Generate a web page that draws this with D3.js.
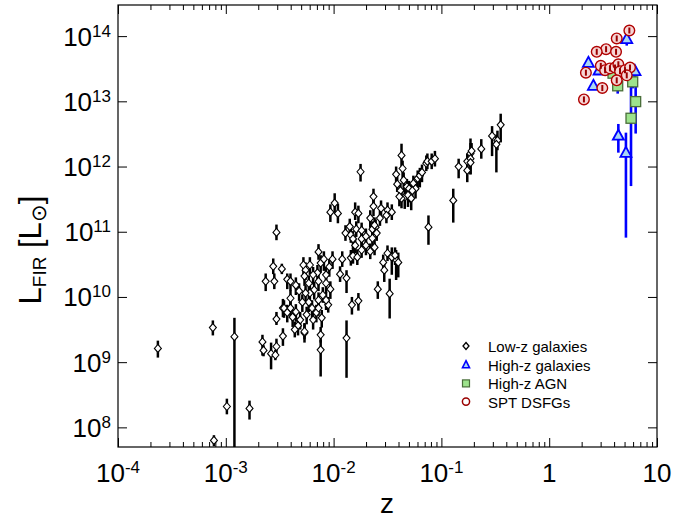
<!DOCTYPE html>
<html><head><meta charset="utf-8">
<script src="https://cdn.jsdelivr.net/npm/d3@7"></script>
<style>body{margin:0;background:#fff}svg{display:block}</style>
</head><body><svg id="c" width="673" height="520"></svg>
<script>
// ---- Low-z galaxies (log10 z, log10 L_FIR, error bar lengths in dex) ----
const lowZ_log10z = [-3.63,-3.12,-2.92,-2.99,-2.78,-3.11,-2.66,-2.65,-2.58,-2.53,-2.54,-2.47,-2.53,-2.47,-2.40,-2.27,-2.12,-2.12,-1.88,
 -2.53,-2.56,-2.48,-2.63,-2.55,-2.43,-2.40,-2.32,-2.28,-2.26,-2.27,-2.14,-2.12,-2.09,-2.04,-2.01,-2.15,-2.14,-2.18,-2.22,-2.03,-2.10,-2.05,-2.26,
 -2.40,-2.46,-2.43,-2.38,-2.35,-2.31,-2.33,-2.27,-2.25,-2.19,-2.16,-2.11,-2.20,-2.14,-1.94,-1.92,-1.88,-1.84,-1.83,-1.77,-1.59,-1.48,-1.54,-1.53,
 -1.42,-1.40,-1.46,-1.99,-2.03,-1.96,-1.80,-1.63,-1.63,-1.66,-1.56,-1.50,-1.46,-1.57,-1.61,-1.89,-1.84,-1.79,-1.82,-1.80,-1.74,-1.74,-1.64,-1.62,
 -1.60,-1.64,-1.74,-1.66,-1.62,-1.82,-1.78,-1.50,-1.43,-1.75,-1.37,-1.42,-1.41,-1.38,-1.34,-1.37,-1.32,-1.29,-1.26,-1.24,-1.30,-1.22,-1.20,-1.18,
 -1.14,-1.13,-1.09,-1.06,-1.12,-0.89,-0.84,-0.76,-0.73,-0.72,-0.73,-0.63,-0.53,-0.48,-0.49,-0.45,-2.23,-2.07,
 -1.35,-1.31,-1.28,-1.27,-1.39,-1.36,-2.22,-2.19,-2.07,-2.35,-2.23,-2.07,-2.29,-2.14,-2.36,-1.70,-1.70,-1.51,-1.85,-1.77,-0.76,-0.73];
const lowZ_log10L = [9.21,9.53,9.39,8.32,8.29,7.80,9.31,9.18,9.13,9.24,9.11,9.40,9.66,9.83,9.98,9.45,9.19,9.42,9.37,
 10.99,10.47,10.43,10.24,10.24,10.27,10.24,10.09,10.49,10.41,10.32,10.69,10.52,10.58,10.46,10.58,10.37,10.24,10.11,10.06,10.12,10.03,9.88,10.06,
 9.83,9.83,9.76,9.69,9.77,9.65,9.56,9.47,9.73,9.65,9.76,9.68,9.83,9.83,10.35,10.58,10.29,10.60,9.88,9.94,10.12,10.05,10.53,10.41,
 10.57,10.53,10.61,11.44,11.30,11.28,11.30,11.54,11.39,11.21,11.36,11.33,11.30,11.21,11.07,10.98,10.95,11.04,10.89,10.79,11.02,10.89,11.04,11.10,
 10.98,10.90,10.72,10.70,10.76,10.63,10.61,10.67,10.64,11.92,12.17,11.88,11.73,11.63,11.53,11.51,11.69,11.60,11.74,11.66,11.66,11.82,11.86,11.91,
 12.05,12.08,12.08,12.12,11.07,11.48,12.00,12.08,12.20,12.24,12.12,12.27,12.47,12.40,12.34,12.64,9.92,9.95,
 11.79,11.56,11.51,11.63,11.54,11.97,10.49,10.34,10.34,10.18,10.21,10.21,9.92,9.95,9.50,10.79,10.93,11.25,11.08,11.28,11.94,12.06];
const lowZ_errDnDex = [0.14,0.12,1.70,0.12,0.17,0.09,0.21,0.09,0.24,0.12,0.08,0.15,0.09,0.14,0.12,0.15,0.41,0.12,0.61,
 0.12,0.12,0.08,0.15,0.12,0.15,0.15,0.15,0.15,0.15,0.15,0.12,0.15,0.18,0.15,0.15,0.15,0.15,0.15,0.12,0.15,0.12,0.12,0.15,
 0.15,0.15,0.15,0.15,0.15,0.15,0.15,0.12,0.15,0.15,0.15,0.15,0.15,0.12,0.12,0.12,0.23,0.12,0.15,0.15,0.15,0.38,0.15,0.18,
 0.31,0.23,0.27,0.15,0.15,0.15,0.12,0.12,0.15,0.15,0.15,0.12,0.12,0.12,0.12,0.12,0.12,0.12,0.15,0.12,0.15,0.15,0.15,0.12,
 0.12,0.12,0.12,0.12,0.12,0.12,0.12,0.12,0.15,0.15,0.18,0.12,0.12,0.15,0.18,0.15,0.15,0.15,0.12,0.15,0.12,0.15,0.18,0.15,
 0.12,0.12,0.12,0.12,0.27,0.34,0.18,0.18,0.15,0.12,0.24,0.15,0.31,0.15,0.43,0.27,0.15,0.15,
 0.18,0.18,0.18,0.15,0.15,0.15,0.15,0.15,0.15,0.15,0.15,0.15,0.15,0.15,0.12,0.15,0.15,0.12,0.15,0.15,0.18,0.18];
const lowZ_errUpDex = [0.12,0.11,0.29,0.12,0.12,0.08,0.11,0.08,0.17,0.12,0.08,0.12,0.11,0.14,0.12,0.15,0.15,0.12,0.27,
 0.12,0.12,0.08,0.12,0.12,0.09,0.12,0.12,0.12,0.12,0.12,0.12,0.12,0.12,0.12,0.12,0.12,0.15,0.12,0.12,0.12,0.12,0.12,0.12,
 0.12,0.12,0.12,0.12,0.12,0.12,0.12,0.12,0.12,0.12,0.12,0.12,0.12,0.12,0.12,0.12,0.12,0.12,0.12,0.12,0.12,0.23,0.12,0.12,
 0.15,0.15,0.15,0.15,0.12,0.15,0.15,0.12,0.12,0.12,0.12,0.12,0.12,0.12,0.12,0.12,0.12,0.12,0.12,0.12,0.12,0.12,0.12,0.12,
 0.12,0.12,0.12,0.12,0.12,0.12,0.12,0.12,0.12,0.12,0.18,0.12,0.12,0.12,0.12,0.12,0.12,0.12,0.12,0.12,0.12,0.12,0.12,0.12,
 0.12,0.12,0.12,0.12,0.18,0.18,0.12,0.12,0.23,0.12,0.24,0.15,0.15,0.15,0.15,0.17,0.12,0.12,
 0.12,0.12,0.12,0.15,0.12,0.12,0.12,0.12,0.12,0.12,0.12,0.12,0.12,0.12,0.12,0.12,0.12,0.12,0.12,0.12,0.12,0.12];

// ---- High-z galaxies ----
const hzGal_z = [5.24, 2.31, 2.90, 6.25, 2.57, 4.38, 5.15];
const hzGal_L = [9.0e13, 3.9e13, 2.97e13, 2.9e13, 1.73e13, 2.97e12, 1.62e12];
const hzGal_errDnDex = [0.10, 0.04, 0.04, 0.15, 0.04, 0.26, 1.30];
const hzGal_errUpDex = [0.10, 0.04, 0.04, 0.08, 0.04, 0.18, 0.31];

// ---- High-z AGN ----
const agn_z = [3.91, 4.32, 5.95, 6.34, 5.74];
const agn_L = [2.7e13, 1.73e13, 1.99e13, 9.9e12, 5.5e12];
const agn_errDnDex = [0.04, 0.12, 0.10, 0.49, 1.04];
const agn_errUpDex = [0.04, 0.04, 0.08, 0.37, 0.52];

// ---- SPT DSFGs ----
const spt_z = [5.54, 4.23, 3.37, 2.76, 4.17, 2.19, 3.01, 3.30, 3.66, 4.08, 4.38, 4.54, 5.05, 5.62, 5.24, 4.23, 3.11, 2.10];
const spt_L = [1.22e14, 9.2e13, 6.3e13, 5.75e13, 5.75e13, 2.75e13, 3.5e13, 3.0e13, 3.2e13, 3.3e13, 3.7e13, 2.9e13, 3.0e13, 3.3e13, 2.5e13, 2.1e13, 1.6e13, 1.07e13];

// ---- Axes ----
const xMajor = [1e-4, 1e-3, 1e-2, 1e-1, 1, 10];
const xTickLabels = [["10","-4"],["10","-3"],["10","-2"],["10","-1"],["1",""],["10",""]];
const yMajor = [1e8, 1e9, 1e10, 1e11, 1e12, 1e13, 1e14];
const yTickLabels = [["10","8"],["10","9"],["10","10"],["10","11"],["10","12"],["10","13"],["10","14"]];
const legendLabels = ["Low-z galaxies", "High-z galaxies", "High-z AGN", "SPT DSFGs"];

const FONT = "'Liberation Sans', Arial, Helvetica, sans-serif";
const svg = d3.select("#c");
const L = 118, R = 657, T = 5, B = 447;
const x = d3.scaleLog().domain([1e-4, 10]).range([L, R]);
const y = d3.scaleLog().domain([5e7, 3e14]).range([B, T]);

svg.append("defs").append("clipPath").attr("id","pc")
  .append("rect").attr("x",L).attr("y",T).attr("width",R-L).attr("height",B-T);

const xMinor = [];
for (let e = -4; e < 1; e++) for (let k = 2; k <= 9; k++) xMinor.push(k * Math.pow(10, e));

function styleAxis(g){ g.select(".domain").remove(); g.selectAll("line").attr("stroke","#000").attr("stroke-width",1); }
svg.append("g").attr("transform",`translate(0,${B})`).call(d3.axisBottom(x).tickValues(xMajor).tickSize(-9).tickFormat("")).call(styleAxis);
svg.append("g").attr("transform",`translate(0,${B})`).call(d3.axisBottom(x).tickValues(xMinor).tickSize(-5).tickFormat("")).call(styleAxis);
svg.append("g").attr("transform",`translate(0,${T})`).call(d3.axisTop(x).tickValues(xMajor).tickSize(-9).tickFormat("")).call(styleAxis);
svg.append("g").attr("transform",`translate(0,${T})`).call(d3.axisTop(x).tickValues(xMinor).tickSize(-5).tickFormat("")).call(styleAxis);
svg.append("g").attr("transform",`translate(${L},0)`).call(d3.axisLeft(y).tickValues(yMajor).tickSize(-9).tickFormat("")).call(styleAxis);
svg.append("g").attr("transform",`translate(${R},0)`).call(d3.axisRight(y).tickValues(yMajor).tickSize(-9).tickFormat("")).call(styleAxis);

// tick labels
xMajor.forEach((v,i)=>{
  const t = svg.append("text").attr("x", x(v)).attr("y", 482).attr("text-anchor","middle")
    .attr("font-family",FONT).attr("font-size",26).attr("fill","#000");
  t.append("tspan").text(xTickLabels[i][0]);
  if (xTickLabels[i][1]) t.append("tspan").attr("font-size",17).attr("dy",-9).text(xTickLabels[i][1]);
});
yMajor.forEach((v,i)=>{
  const t = svg.append("text").attr("x", 111).attr("y", y(v)+9.5).attr("text-anchor","end")
    .attr("font-family",FONT).attr("font-size",26).attr("fill","#000");
  t.append("tspan").text(yTickLabels[i][0]);
  t.append("tspan").attr("font-size",17).attr("dy",-9).text(yTickLabels[i][1]);
});

// axis titles
svg.append("text").attr("x", 387).attr("y", 513).attr("text-anchor","middle")
  .attr("font-family",FONT).attr("font-size",28).text("z");
const yt = svg.append("text").attr("transform","translate(41,250) rotate(-90)").attr("text-anchor","middle")
  .attr("font-family",FONT).attr("font-size",31);
yt.append("tspan").text("L");
yt.append("tspan").attr("font-size",19).attr("dy",5).text("FIR");
yt.append("tspan").attr("dy",-5).text(" [L");
yt.append("tspan").attr("font-size",21).attr("dy",5).text("\u2299");
yt.append("tspan").attr("dy",-5).text("]");

// plot content
const plot = svg.append("g").attr("clip-path","url(#pc)");

const lowZ = lowZ_log10z.map((lz,i)=>({z:Math.pow(10,lz), L:Math.pow(10,lowZ_log10L[i]), dn:lowZ_errDnDex[i], up:lowZ_errUpDex[i]}));
plot.append("g").selectAll("line").data(lowZ).join("line")
  .attr("x1",d=>x(d.z)).attr("x2",d=>x(d.z))
  .attr("y1",d=>y(d.L*Math.pow(10,d.up))).attr("y2",d=>y(d.L/Math.pow(10,d.dn)))
  .attr("stroke","#000").attr("stroke-width",2.5);
const diamond = "M0,-4L3.5,0L0,4L-3.5,0Z";
plot.append("g").selectAll("path").data(lowZ).join("path")
  .attr("d",diamond).attr("transform",d=>`translate(${x(d.z)},${y(d.L)})`)
  .attr("fill","#fff").attr("stroke","#000").attr("stroke-width",1.1);

const hzG = hzGal_z.map((z,i)=>({z, L:hzGal_L[i], dn:hzGal_errDnDex[i], up:hzGal_errUpDex[i]}));
const agn = agn_z.map((z,i)=>({z, L:agn_L[i], dn:agn_errDnDex[i], up:agn_errUpDex[i]}));
const spt = spt_z.map((z,i)=>({z, L:spt_L[i]}));

plot.append("g").selectAll("line").data(hzG.concat(agn)).join("line")
  .attr("x1",d=>x(d.z)).attr("x2",d=>x(d.z))
  .attr("y1",d=>y(d.L*Math.pow(10,d.up))).attr("y2",d=>y(d.L/Math.pow(10,d.dn)))
  .attr("stroke","#0000ff").attr("stroke-width",2.6);
const tri = "M0,-6L5.5,4L-5.5,4Z";
plot.append("g").selectAll("path").data(hzG).join("path")
  .attr("d",tri).attr("transform",d=>`translate(${x(d.z)},${y(d.L)})`)
  .attr("fill","#a9d6f5").attr("stroke","#0000ff").attr("stroke-width",1.8);
plot.append("g").selectAll("rect").data(agn).join("rect")
  .attr("x",d=>x(d.z)-5).attr("y",d=>y(d.L)-5).attr("width",10).attr("height",10)
  .attr("fill","#9de38c").attr("stroke","#4a6e3a").attr("stroke-width",1.3);
plot.append("g").selectAll("circle").data(spt).join("circle")
  .attr("cx",d=>x(d.z)).attr("cy",d=>y(d.L)).attr("r",5.3)
  .attr("fill","#f6d6d6").attr("stroke","#b00000").attr("stroke-width",1.4);
plot.append("g").selectAll("line").data(spt).join("line")
  .attr("x1",d=>x(d.z)).attr("x2",d=>x(d.z))
  .attr("y1",d=>y(d.L)-3).attr("y2",d=>y(d.L)+3)
  .attr("stroke","#9a0000").attr("stroke-width",2);

// frame
svg.append("rect").attr("x",L).attr("y",T).attr("width",R-L).attr("height",B-T)
  .attr("fill","none").attr("stroke","#000").attr("stroke-width",1.2);

// legend
const lg = svg.append("g");
const ly0 = 346, dy = 18.7, lx = 466;
lg.append("path").attr("d","M0,-3.5L3,0L0,3.5L-3,0Z").attr("transform",`translate(${lx},${ly0})`)
  .attr("fill","#fff").attr("stroke","#000").attr("stroke-width",1.3);
lg.append("path").attr("d","M0,-4L3.5,3L-3.5,3Z").attr("transform",`translate(${lx},${ly0+dy})`)
  .attr("fill","#a9d6f5").attr("stroke","#0000ff").attr("stroke-width",1.6);
lg.append("rect").attr("x",lx-3.5).attr("y",ly0+2*dy-3.5).attr("width",7).attr("height",7)
  .attr("fill","#9de38c").attr("stroke","#4a6e3a").attr("stroke-width",1.2);
lg.append("circle").attr("cx",lx).attr("cy",ly0+3*dy-0.5).attr("r",3.6)
  .attr("fill","#fff").attr("stroke","#9a0000").attr("stroke-width",1.5);
legendLabels.forEach((s,i)=>{
  lg.append("text").attr("x",488).attr("y",ly0+i*dy+6).attr("font-family",FONT)
    .attr("font-size",15).attr("fill","#000").text(s);
});
</script></body></html>
